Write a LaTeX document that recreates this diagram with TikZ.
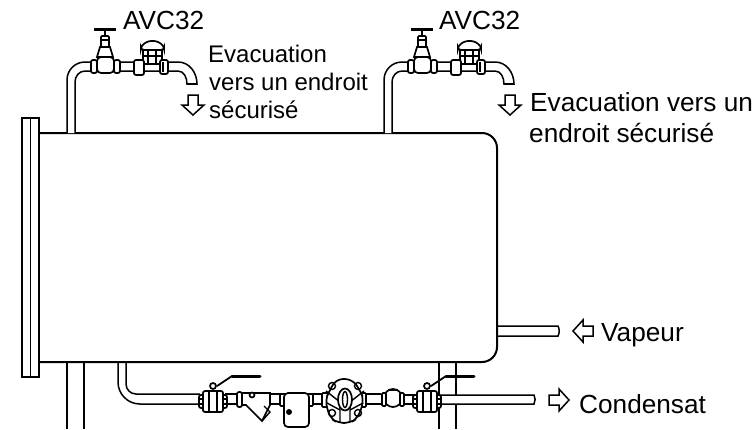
\documentclass[tikz,border=0pt]{standalone}
\usepackage{fontspec}
\setmainfont{Liberation Sans}
\usepackage{tikz}
\tikzset{>=latex}
\tikzstyle{thin line} = [line width=1.5pt]
\tikzstyle{wall} = [line width=2pt]
\tikzstyle{part} = [line width=1.7pt, fill=white]
\tikzstyle{label} = [draw = none, inner sep = 0, anchor = base west, font=\fontsize{26.2}{29}\selectfont]
\tikzstyle{small label} = [label, font=\fontsize{24}{28}\selectfont]
\tikzset{
  flowarrow/.pic={
    \draw [line width=1.5pt, fill=white] (-10,-5) -- (0,-5) -- (0,-11) -- (10,0) -- (0,11) -- (0,5) -- (-10,5) -- cycle;
  },
  ballvalve/.pic={
    %handle
    \draw [line width=1.8pt] (4,-13) -- (19,-23);
    \draw [line width=3pt, line cap=round] (19,-23) -- (47,-23);
    \draw [part] (0,-13) circle (3);
    \draw [part, rounded corners=2] (-14,-4) rectangle (-9,9);
    \draw [part, rounded corners=2] (9,-4) rectangle (14,9);
    \draw [part, rounded corners=2] (-10,-8) rectangle (10,13);
    \draw [part] (-4,-8) rectangle (4,13);
    \draw [line width=1.5pt] (-14,0) -- (-9,0) (-14,5) -- (-9,5) (9,0) -- (14,0) (9,5) -- (14,5);
  },
  avcvalve/.pic={
    %pipe
    \draw [thin line, fill=white] (67,133) -- (67,80) to [out=90, in=180] (85,62) -- (178,62)
      to [out=0, in=90] (197,84) -- (187,84) to [out=90, in=0] (178,71) -- (85,71)
      to [out=180, in=90] (75,82) -- (75,133);
    %globe valve
    \draw [line width=3pt] (94,29.5) -- (116,29.5);
    \draw [line width=2pt] (105,31) -- (105,36);
    \draw [part, rounded corners=1] (101,36) rectangle (109,47);
    \draw [line width=1.5pt] (101,40) -- (109,40);
    \draw [part] (100,47) -- (110,47) -- (113,57) -- (97,57) -- cycle;
    \draw [part, rounded corners=2] (91,60) rectangle (97,73);
    \draw [part, rounded corners=2] (114,60) rectangle (120,73);
    \draw [part, rounded corners=4] (97,57) rectangle (114,73);
    %trap
    \draw [part, rounded corners=2] (143,45) rectangle (162,64);
    \draw [part, rounded corners=3] (141,46) -- (148,41) -- (157,41) -- (164,46) -- (164,50) -- (141,50) -- cycle;
    \draw [line width=1.4pt] (148,50) -- (148,64) (156,50) -- (156,64) (143,56) -- (162,56);
    \draw [part, rounded corners=2] (134,60) rectangle (144,75);
    \draw [part, rounded corners=2] (160,60) rectangle (168,74);
    \draw [line width=1.4pt] (163,62) -- (163,72);
    \draw [line width=2.4pt] (187,84) -- (197,84);
  }
}

\begin{document}
\begin{tikzpicture}[x=1pt, y=-1pt]
\useasboundingbox (0,0) rectangle (756,429);
%legs
\draw [thin line] (67,362) -- (67,429);
\draw [thin line] (84,362) -- (84,429);
\draw [thin line] (439,362) -- (439,429);
\draw [thin line] (456,362) -- (456,429);
%steam inlet
\draw [thin line] (497,326) -- (558,326) to [bend left=25] (558,336) -- (497,336);
%tank
\draw [wall, rounded corners=15] (39,133) -- (497,133) -- (497,362) -- (39,362);
\draw [thin line, fill=white] (22,118) rectangle (39,377);
\draw [thin line] (30.5,118) -- (30.5,377);
\draw [wall] (22,377) -- (39,377);
%vents
\foreach \shift in {0,317} {
  \pic at (\shift,0) {avcvalve};
  \pic [rotate=-90] at (193+\shift,105) {flowarrow};
}
%condensate line
\draw [thin line] (118,362) -- (118,382) to [out=-90, in=180] (140,404) -- (200,404);
\draw [thin line] (126,362) -- (126,384) to [out=-90, in=180] (136,394) -- (200,394);
\draw [thin line] (225,394) -- (381,394) (225,404) -- (381,404);
\draw [thin line, fill=white] (404,395) -- (414,395) -- (414,404) -- (404,404);
\draw [thin line, fill=white] (439,395) -- (534,395) to [bend left=25] (534,404) -- (439,404);
\pic at (213,399) {ballvalve};
\pic at (427,399) {ballvalve};
%strainer
\draw [part] (242,393) -- (270,393) -- (270,405) -- (262,421) -- (246,405) -- (242,405) -- cycle;
\draw [line width=1.4pt] (262,421) -- (270,412) -- (264,406);
\draw [part] (252,395) circle (2.5);
\draw [part, rounded corners=2] (237,392) rectangle (242,407);
%pot
\draw [part, rounded corners=1] (280,394) rectangle (285,406);
\draw [part, rounded corners=1] (308,394) rectangle (313,406);
\draw [part, rounded corners=4] (284,393) rectangle (309,427);
\fill (289,412) circle (3);
%disc trap
\draw [part, rounded corners=1] (322,393) rectangle (328,407);
\draw [part, rounded corners=1] (361,393) rectangle (366,407);
\draw [part, rounded corners=7] (330,390) -- (336,379) -- (352,379) -- (360,390) -- (364,400) -- (358,418) -- (350,423) -- (338,423) -- (330,418) -- (325,400) -- cycle;
\foreach \bx/\by in {332/386,358/386,332/413,358/413} {
  \draw [line width=1.4pt] (\bx,\by) circle (3.5);
}
\draw [line width=1.4pt] (326,391) -- (340,402) -- (340,422) (364,391) -- (350,402) -- (350,422) (327,403) -- (340,410) (363,403) -- (350,410);
\draw [part] (345,399.5) ellipse (7 and 11);
\draw [line width=1.4pt] (345,399.5) ellipse (2.5 and 8);
%check valve
\draw [part] (393,398) ellipse (9 and 9);
\draw [part, rounded corners=1] (382,393) rectangle (386,406);
\draw [part, rounded corners=1] (400,393) rectangle (404,406);
\draw [line width=1.7pt] (388,390) -- (398,390);
%labels
\node [label] (avcleft) at (123,29) {AVC32};
\node [label] (avcright) at (439,29) {AVC32};
\node [small label] (evacone) at (208,62) {Evacuation};
\node [small label] (evactwo) at (209,90) {vers un endroit};
\node [small label] (evacthree) at (209,118) {sécurisé};
\node [label] (evacfour) at (530,111) {Evacuation vers un};
\node [label] (evacfive) at (529,142) {endroit sécurisé};
\node [label] (vapeur) at (601,341) {Vapeur};
\node [label] (condensat) at (579,413) {Condensat};
\pic [rotate=180] at (583,331) {flowarrow};
\pic at (559,400) {flowarrow};
\end{tikzpicture}
\end{document}
